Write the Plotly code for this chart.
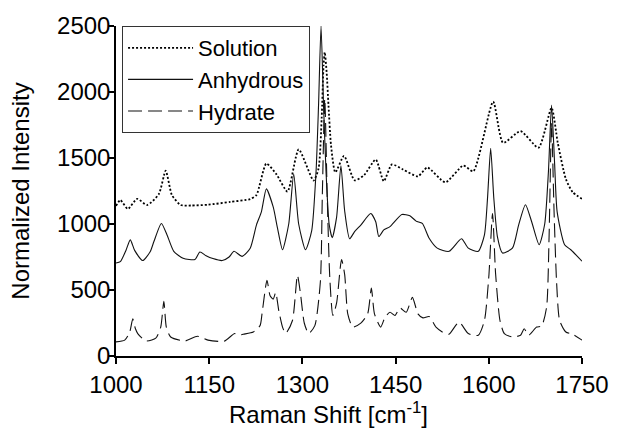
import plotly.graph_objects as go

# Raman shift positions (cm^-1) and normalized intensities
sol_x = [1000, 1007, 1019, 1034, 1050, 1069, 1080, 1090, 1104, 1121, 1148, 1184, 1216, 1226,
         1242, 1258, 1276, 1294, 1318, 1326, 1331, 1334, 1336, 1339, 1342, 1346, 1353, 1367,
         1384, 1399, 1418, 1431, 1444, 1462, 1486, 1501, 1530, 1559, 1575, 1607, 1623, 1651,
         1680, 1701, 1711, 1724, 1735, 1750]
sol_y = [1137, 1181, 1114, 1191, 1144, 1227, 1404, 1219, 1144, 1140, 1146, 1167, 1189, 1219,
         1458, 1378, 1246, 1565, 1329, 1420, 1800, 2200, 2301, 2150, 1900, 1600, 1391, 1516,
         1331, 1369, 1488, 1324, 1451, 1413, 1361, 1428, 1316, 1443, 1399, 1927, 1615, 1703,
         1578, 1880, 1615, 1341, 1241, 1191]

anh_x = [1000, 1007, 1016, 1023, 1030, 1043, 1055, 1061, 1073, 1082, 1093, 1108, 1127, 1135,
         1145, 1156, 1171, 1182, 1190, 1203, 1216, 1226, 1234, 1242, 1253, 1260, 1268, 1278,
         1286, 1294, 1305, 1315, 1322, 1326, 1330, 1334, 1338, 1343, 1348, 1355, 1362, 1368,
         1376, 1384, 1394, 1410, 1418, 1423, 1431, 1441, 1460, 1473, 1483, 1493, 1504, 1517,
         1536, 1556, 1567, 1583, 1593, 1598, 1603, 1608, 1614, 1622, 1638, 1648, 1659, 1669,
         1681, 1690, 1696, 1701, 1706, 1710, 1722, 1732, 1750]
anh_y = [705, 715, 800, 880, 800, 723, 790, 867, 1004, 919, 793, 740, 731, 788,
         760, 738, 723, 750, 793, 755, 817, 992, 1092, 1266, 1129, 967, 805, 1000,
         1378, 1000, 805, 950, 1400, 1900, 2500, 1900, 1400, 1000, 897, 1050, 1441, 1100,
         888, 942, 992, 1079, 1017, 905, 955, 980, 1072, 1062, 1022, 1004, 892, 817,
         793, 888, 817, 793, 918, 1200, 1573, 1200, 900, 780, 817, 992, 1146, 1017,
         843, 1000, 1400, 1902, 1450, 1092, 843, 805, 718]

hyd_x = [1000, 1014, 1022, 1027, 1031, 1035, 1048, 1064, 1072, 1077, 1081, 1088, 1111, 1131,
         1148, 1174, 1191, 1197, 1205, 1221, 1232, 1235, 1243, 1248, 1253, 1257, 1262, 1268,
         1273, 1284, 1292, 1297, 1303, 1310, 1320, 1329, 1332, 1336, 1340, 1344, 1349, 1355,
         1363, 1368, 1373, 1381, 1394, 1405, 1411, 1416, 1426, 1433, 1441, 1449, 1457, 1467,
         1477, 1486, 1494, 1504, 1515, 1528, 1536, 1552, 1567, 1583, 1593, 1600, 1606, 1611,
         1618, 1625, 1638, 1651, 1657, 1664, 1677, 1685, 1693, 1697, 1701, 1705, 1709, 1714,
         1724, 1735, 1750]
hyd_y = [107, 120, 180, 282, 210, 170, 114, 135, 219, 414, 219, 144, 114, 150,
         120, 112, 170, 157, 165, 182, 232, 319, 574, 456, 431, 481, 344, 219,
         170, 269, 611, 469, 250, 170, 230, 568, 1200, 1950, 1200, 600, 307, 400,
         731, 618, 319, 219, 249, 319, 514, 319, 219, 294, 331, 307, 364, 331,
         444, 319, 289, 299, 219, 174, 165, 257, 170, 157, 269, 600, 1079, 620,
         269, 170, 144, 157, 207, 157, 219, 227, 369, 900, 1765, 1100, 568, 269,
         182, 165, 120]

x_ticks = [1000, 1150, 1300, 1450, 1600, 1750]
y_ticks = [0, 500, 1000, 1500, 2000, 2500]

FONT = "Liberation Sans, Arial, sans-serif"

fig = go.Figure()
fig.add_trace(go.Scatter(x=sol_x, y=sol_y, name="Solution", mode="lines",
                         line=dict(color="black", width=1.8, dash="2px,2px", shape="spline", smoothing=0.6)))
fig.add_trace(go.Scatter(x=anh_x, y=anh_y, name="Anhydrous", mode="lines",
                         line=dict(color="#111", width=1.1, shape="spline", smoothing=0.6)))
fig.add_trace(go.Scatter(x=hyd_x, y=hyd_y, name="Hydrate", mode="lines",
                         line=dict(color="#111", width=1.1, dash="14px,6px", shape="spline", smoothing=0.6)))

fig.update_layout(
    width=621, height=433,
    margin=dict(l=116, r=28, t=22, b=77),
    paper_bgcolor="white", plot_bgcolor="white",
    font=dict(family=FONT, size=24, color="black"),
    showlegend=True,
    legend=dict(x=0.013, y=1, xanchor="left", yanchor="top",
                bordercolor="#333", borderwidth=1, bgcolor="white",
                font=dict(family=FONT, size=22), tracegroupgap=0,
                itemwidth=65, entrywidth=165),
    xaxis=dict(range=[1000, 1750], tickvals=x_ticks, ticktext=[str(v) for v in x_ticks],
               showgrid=False, zeroline=False, showline=True, linecolor="black", linewidth=1.5,
               ticks="outside", ticklen=6, tickwidth=1.5, tickcolor="black",
               tickfont=dict(size=24)),
    yaxis=dict(range=[0, 2500], tickvals=y_ticks, ticktext=[str(v) for v in y_ticks],
               showgrid=False, zeroline=False, showline=True, linecolor="black", linewidth=1.5,
               ticks="outside", ticklen=5, tickwidth=1.5, tickcolor="black",
               tickfont=dict(size=24), ticklabelstandoff=-6,
               title=dict(text="Normalized Intensity", font=dict(size=24), standoff=21)),
    annotations=[dict(text="Raman Shift [cm<sup>-1</sup>]", xref="paper", yref="paper",
                      x=0.455, y=-0.172, xanchor="center", yanchor="middle", showarrow=False,
                      font=dict(family=FONT, size=24))],
)

fig.write_html("out.html")
